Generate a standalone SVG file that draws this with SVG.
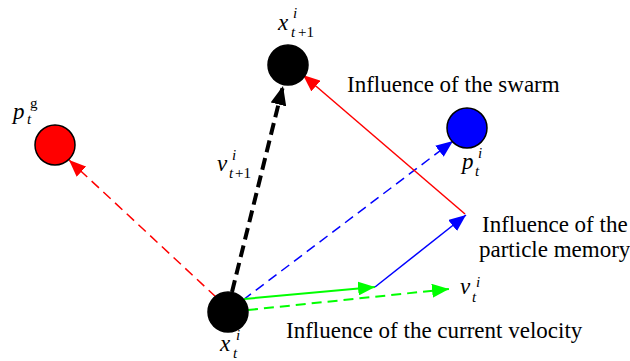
<svg xmlns="http://www.w3.org/2000/svg" width="630" height="361" viewBox="0 0 630 361">
<style>
.lbl{font-family:"Liberation Serif","Times New Roman",serif;font-size:23px;fill:#000}
.m{font-family:"Liberation Serif","Times New Roman",serif;font-style:italic;font-size:23px;fill:#000}
.s{font-family:"Liberation Serif","Times New Roman",serif;font-style:italic;font-size:15px;fill:#000}
.sr{font-family:"Liberation Serif","Times New Roman",serif;font-size:15px;fill:#000}
.node{stroke:#000;stroke-width:1.5}
</style>
<defs>
<marker id="aR" markerUnits="userSpaceOnUse" markerWidth="18" markerHeight="14" refX="17" refY="7" orient="auto"><path d="M0,0 L17,7 L0,14 z" fill="#f00"/></marker>
<marker id="aB" markerUnits="userSpaceOnUse" markerWidth="18" markerHeight="14" refX="17" refY="7" orient="auto"><path d="M0,0 L17,7 L0,14 z" fill="#00f"/></marker>
<marker id="aG" markerUnits="userSpaceOnUse" markerWidth="18" markerHeight="14" refX="17" refY="7" orient="auto"><path d="M0,0 L17,7 L0,14 z" fill="#0f0"/></marker>
<marker id="aK" markerUnits="userSpaceOnUse" markerWidth="20" markerHeight="16" refX="19" refY="8" orient="auto"><path d="M0,0 L19,8 L0,16 z" fill="#000"/></marker>
</defs>
<g id="connectors" fill="none">
<path d="M216,297 L69,160" stroke="#f00" stroke-width="1.5" stroke-dasharray="10,6" marker-end="url(#aR)"/>
<path d="M243,300 L453,141" stroke="#00f" stroke-width="1.5" stroke-dasharray="10,6" marker-end="url(#aB)"/>
<path d="M244,299 L375,287" stroke="#0f0" stroke-width="2" marker-end="url(#aG)"/>
<path d="M248,310 L449,289" stroke="#0f0" stroke-width="2" stroke-dasharray="10,6" marker-end="url(#aG)"/>
<path d="M375,287 L466,215" stroke="#00f" stroke-width="1.5" marker-end="url(#aB)"/>
<path d="M465,214 L303,75" stroke="#f00" stroke-width="1.5" marker-end="url(#aR)"/>
<path d="M232,292 L283,86" stroke="#000" stroke-width="4" stroke-dasharray="12,6" marker-end="url(#aK)"/>
</g>
<g id="node-xt">
<circle class="node" cx="228" cy="312" r="20" fill="#000"/>
<text class="m" x="220" y="351">x</text><text class="s" x="236" y="340">i</text><text class="s" x="233" y="358">t</text>
</g>
<g id="node-xt1">
<circle class="node" cx="288" cy="65" r="20" fill="#000"/>
<text class="m" x="278" y="30">x</text><text class="s" x="293" y="18">i</text><text class="s" x="291" y="37">t</text><text class="sr" x="298" y="37">+1</text>
</g>
<g id="node-pg">
<circle class="node" cx="55" cy="145" r="20" fill="#f00"/>
<text class="m" x="13" y="119">p</text><text class="sr" x="30" y="108">g</text><text class="s" x="27" y="124">t</text>
</g>
<g id="node-pi">
<circle class="node" cx="467" cy="128" r="20" fill="#00f"/>
<text class="m" x="462" y="169">p</text><text class="s" x="478" y="158">i</text><text class="s" x="475" y="176">t</text>
</g>
<g id="label-v1">
<text class="m" x="217" y="171">v</text><text class="s" x="232" y="160">i</text><text class="s" x="229" y="178">t</text><text class="sr" x="235" y="178">+1</text>
</g>
<g id="label-vt">
<text class="m" x="460" y="294">v</text><text class="s" x="476" y="287">i</text><text class="s" x="472" y="302">t</text>
</g>
<g id="labels">
<text class="lbl" x="347" y="92">Influence of the swarm</text>
<text class="lbl" x="482" y="232">Influence of the</text>
<text class="lbl" x="479" y="257">particle memory</text>
<text class="lbl" x="286" y="338">Influence of the current velocity</text>
</g>
</svg>
